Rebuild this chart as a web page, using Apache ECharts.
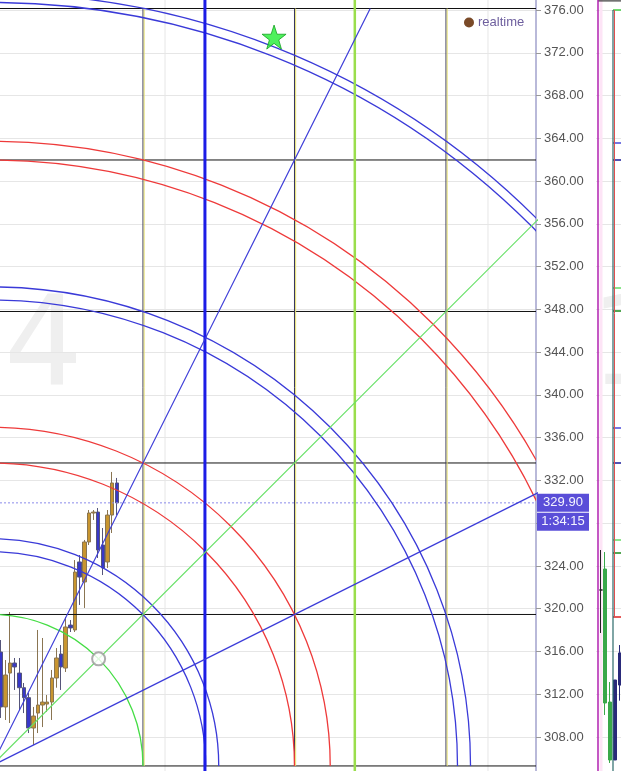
<!DOCTYPE html>
<html><head><meta charset="utf-8">
<script src="https://cdn.jsdelivr.net/npm/echarts@6/dist/echarts.min.js"></script>
<style>html,body{margin:0;padding:0;background:#fff;overflow:hidden}#c{width:621px;height:771px}</style>
</head><body><div id="c"></div>
<script>
// ---- axes ----
const yMin = 304, yMax = 380, yInterval = 4;
const xMin = 1.832, xMax = 117.35;
const timeGridBars = [37.4, 107.0];
// ---- Gann box (origin in [bar, price], unit size in [bars, price]) ----
const gannOrigin = [0, 305.29];
const gannUnit = [32.65, 14.17];
const gannLevels = [0, 1, 2, 3, 4, 5];
const gannVerticalUnits = [1, 2, 3];
const arcRadii = [1.0, 1.414, 1.5, 2.0, 2.236, 3.076, 3.162, 4.0, 4.123, 5.04, 5.1];
const arcColors = ['#44dd44', '#3a3ad8', '#3a3ad8', '#ee3a3a', '#ee3a3a', '#3a3ad8', '#3a3ad8', '#ee3a3a', '#ee3a3a', '#3a3ad8', '#3a3ad8'];
const fanEnds = [[2.5, 5], [5, 5], [10, 5]];
const fanColors = ['#3a3ad8', '#66e066', '#3a3ad8'];
const extraVerticals = [46.0, 78.3];
const extraVerticalColors = ['#1c1ce6', '#9ade4c'];
const extraVerticalWidths = [3, 2.5];
// ---- candles ----
const candleBars = [2,3,4,5,6,7,8,9,10,11,12,13,14,15,16,17,18,19,20,21,22,23,24,25,26,27];
const candleOpen  = [315.95,310.81,313.98,314.92,313.98,312.61,311.68,308.84,310.24,310.99,311.08,311.27,313.52,315.76,314.45,318.47,318.01,324.37,322.50,326.24,328.95,329.04,325.96,324.37,328.76,331.76];
const candleClose = [310.81,313.80,314.92,314.55,312.61,311.68,308.84,309.96,310.99,311.27,311.27,313.52,315.39,314.55,318.29,318.20,323.43,322.96,326.24,328.95,329.04,325.49,323.81,328.76,331.76,329.90];
const candleLow   = [309.78,309.59,309.31,312.40,310.52,310.24,308.37,307.25,308.37,308.93,310.34,309.59,312.61,312.40,314.08,317.82,317.82,320.35,320.07,325.96,328.30,324.74,323.15,323.81,327.08,328.76];
const candleHigh  = [317.07,315.20,319.69,315.39,315.39,313.05,312.11,310.81,318.01,317.26,311.93,314.27,316.32,316.60,319.22,318.94,324.55,325.02,326.43,329.23,329.23,329.42,327.55,329.23,332.79,332.23];
const lastPrice = 329.90;
const countdown = '1:34:15';
const starPoint = [60.9, 373.47];
// ---- right panel ----
const rpBars = [1, 1.7, 2.7, 3.7, 4.7];
const rpOpen  = [321.75, 311.18, 311.27, 313.33, 315.86];
const rpClose = [321.75, 323.71, 305.85, 305.85, 312.86];
const rpLow   = [317.73, 310.06, 305.57, 305.85, 311.40];
const rpHigh  = [325.49, 325.30, 313.14, 313.33, 316.60];
const rpColors = ['#222222', '#3aa84a', '#3aa84a', '#2a2a7a', '#2a2a7a'];
const rpLevels = [376.0, 363.56, 361.97, 350.0, 347.85, 336.9, 333.63, 326.43, 325.21, 319.22];
const rpLevelColors = ['#44cc44', '#4a4ad8', '#1a1a99', '#66dd66', '#1a8a1a', '#4a4ad8', '#1a1a99', '#66dd66', '#1a8a1a', '#dd2222'];

const FONT = 'Liberation Sans, Arial, sans-serif';
const gx = gannOrigin[0], gy = gannOrigin[1], ux = gannUnit[0], uy = gannUnit[1];

function seg(data, color, width, z, xi, type) {
  return { type: 'line', xAxisIndex: xi || 0, yAxisIndex: xi || 0, data: data, symbol: 'none', silent: true,
    clip: true, animation: false, z: z || 3, lineStyle: { color: color, width: width || 1, type: type || 'solid' } };
}

const series = [];
// time grid lines
timeGridBars.forEach(b => series.push(seg([[b, yMin], [b, yMax]], '#e6e6e6', 1, 1)));
// candles
series.push({
  name: 'realtime', type: 'candlestick', barWidth: 4, z: 2, animation: false,
  encode: { x: 0, y: [1, 2, 3, 4] },
  data: candleBars.map((b, i) => [b, candleOpen[i], candleClose[i], candleLow[i], candleHigh[i]]),
  itemStyle: { color: '#c8952f', color0: '#3838c8', borderColor: '#8a7552', borderColor0: '#55557a', borderWidth: 1 }
});
// last price line + label
series.push({
  type: 'line', silent: true, animation: false, symbol: 'none', z: 3,
  data: [[xMin, lastPrice], [xMax, lastPrice]],
  lineStyle: { color: '#8a8aea', type: [2, 2], width: 1 },
  endLabel: {
    show: true, distance: 1,
    formatter: '{s| }\n{a|' + lastPrice.toFixed(2) + '}\n{b|' + countdown + '}',
    rich: {
      s: { height: 18, lineHeight: 19 },
      a: { backgroundColor: '#5a4ed8', color: '#f4f4ff', width: 52, height: 18, lineHeight: 19, align: 'center', fontSize: 13, fontFamily: FONT },
      b: { backgroundColor: '#5a4ed8', color: '#f4f4ff', width: 52, height: 18, lineHeight: 19, align: 'center', fontSize: 13, fontFamily: FONT }
    }
  }
});
// gann horizontals
gannLevels.forEach(k => series.push(seg([[xMin, gy + k * uy], [xMax, gy + k * uy]], '#111111', 1, 3)));
// gann verticals (dark + yellow companion)
gannVerticalUnits.forEach(k => {
  series.push(seg([[gx + k * ux, gy], [gx + k * ux, gy + 5 * uy]], '#33335a', 1, 3));
  series.push(seg([[gx + k * ux + 0.25, gy], [gx + k * ux + 0.25, gy + 5 * uy]], '#e6e070', 1, 3));
});
// extra verticals
extraVerticals.forEach((v, i) => series.push(seg([[v, yMin], [v, yMax]], extraVerticalColors[i], extraVerticalWidths[i], 4)));
// fan lines
fanEnds.forEach((e, i) => series.push(seg([[gx, gy], [gx + e[0] * ux, gy + e[1] * uy]], fanColors[i], 1.2, 4)));
// arcs
series.push({
  type: 'custom', clip: true, silent: true, animation: false, z: 4,
  data: arcRadii.map((r, i) => [r, i]),
  encode: { x: -1, y: -1 },
  renderItem: function (params, api) {
    const r = api.value(0), i = api.value(1);
    const c = api.coord(gannOrigin);
    const rp = api.size([r * ux, 0])[0];
    return { type: 'arc', shape: { cx: c[0], cy: c[1], r: rp, startAngle: -Math.PI / 2, endAngle: 0, clockwise: true },
      style: { stroke: arcColors[i], fill: null, lineWidth: 1.3 } };
  }
});
// circle marker and star
series.push({
  type: 'scatter', silent: true, animation: false, z: 6,
  data: [[gx + ux * Math.SQRT1_2, gy + uy * Math.SQRT1_2]],
  symbol: 'circle', symbolSize: 13,
  itemStyle: { color: '#ffffff', borderColor: '#999999', borderWidth: 2 }
});
series.push({
  type: 'scatter', silent: true, animation: false, z: 6,
  data: [starPoint],
  symbol: 'path://M50,0 L61.8,35.1 L98.1,35.1 L68.8,56.8 L79.4,91.9 L50,70.2 L20.6,91.9 L31.2,56.8 L1.9,35.1 L38.2,35.1 Z',
  symbolSize: 24,
  itemStyle: { color: '#22ee33', borderColor: '#14a020', borderWidth: 1 }
});
// ---- right panel ----
series.push({
  type: 'candlestick', xAxisIndex: 1, yAxisIndex: 1, barWidth: 3.5, animation: false, z: 3,
  encode: { x: 0, y: [1, 2, 3, 4] },
  data: rpBars.map((b, i) => ({ value: [b, rpOpen[i], rpClose[i], rpLow[i], rpHigh[i]],
    itemStyle: { color: rpColors[i], color0: rpColors[i], borderColor: rpColors[i], borderColor0: rpColors[i] } })),
  markLine: {
    symbol: ['none', 'none'], silent: true, animation: false, label: { show: false },
    data: [{ xAxis: 0.4 }], lineStyle: { color: '#b020b0', width: 1.5, type: 'solid' }
  },
  markArea: { silent: true, data: [[{ xAxis: 0.7, itemStyle: { color: '#fde4f6' } }, { xAxis: 1.3 }]] }
});
rpLevels.forEach((v, i) => series.push(seg([[3.4, v], [10, v]], rpLevelColors[i], 1.5, 4, 1)));
series.push(seg([[3.4, 376.0], [3.4, yMin]], '#2a6a6a', 1.2, 4, 1));
series.push(seg([[3.7, 376.0], [3.7, 319.22]], '#e05050', 1, 4, 1));
series.push(seg([[0.4, 376.85], [10, 376.85]], '#111111', 1, 4, 1));

const chart = echarts.init(document.getElementById('c'));
chart.setOption({
  animation: false,
  backgroundColor: '#ffffff',
  legend: {
    left: 459, top: 11, itemWidth: 10, itemHeight: 10, itemGap: 4,
    data: [{ name: 'realtime', icon: 'circle', itemStyle: { color: '#7a4a28', borderWidth: 0 } }],
    textStyle: { color: '#6e5f9e', fontSize: 13, fontFamily: FONT, padding: [0, 0, 0, -1] },
    selectedMode: false
  },
  graphic: [
    { type: 'text', left: 4, top: 290, z: -10, silent: true,
      style: { text: '4', fontSize: 124, fontFamily: 'DejaVu Sans, sans-serif', fill: '#efefef' } },
    { type: 'text', left: 590, top: 290, z: -10, silent: true,
      style: { text: '1', fontSize: 124, fontFamily: 'DejaVu Sans, sans-serif', fill: '#efefef' } }
  ],
  grid: [
    { left: 0, width: 536, top: -32.76, bottom: -8.76, containLabel: false, outerBoundsMode: 'none' },
    { left: 596, width: 50, top: -32.76, bottom: -8.76, containLabel: false, outerBoundsMode: 'none' }
  ],
  xAxis: [
    { type: 'value', min: xMin, max: xMax, show: false, splitLine: { show: false } },
    { type: 'value', gridIndex: 1, min: 0, max: 10, show: false }
  ],
  yAxis: [
    { type: 'value', position: 'right', min: yMin, max: yMax, interval: yInterval,
      axisLine: { show: true, onZero: false, lineStyle: { color: '#a2a2cc', width: 1.5 } },
      axisTick: { show: true, length: 5, lineStyle: { color: '#999999' } },
      axisLabel: { color: '#555555', fontSize: 13, fontFamily: FONT, margin: 8, formatter: v => v.toFixed(2) },
      splitLine: { show: true, lineStyle: { color: '#e6e6e6' } } },
    { type: 'value', gridIndex: 1, min: yMin, max: yMax, interval: yInterval,
      axisLine: { show: false, onZero: false }, axisTick: { show: false }, axisLabel: { show: false },
      splitLine: { show: true, lineStyle: { color: '#e6e6e6' } } }
  ],
  series: series
});
</script>
</body></html>
